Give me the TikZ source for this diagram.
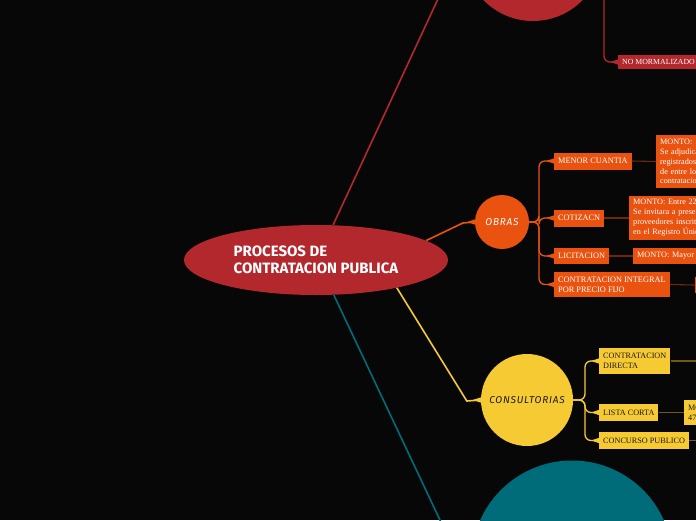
\documentclass[tikz,border=0pt]{standalone}
\usepackage{fontspec}
\setmainfont{Liberation Serif}
\newfontfamily\titlefont{Fira Sans}
\newfontfamily\circfont{Fira Sans}[LetterSpace=8.0]
\usetikzlibrary{shapes.geometric,calc}
\definecolor{bgc}{HTML}{070707}
\definecolor{redc}{HTML}{B3282D}
\definecolor{orc}{HTML}{E9520F}
\definecolor{orline}{HTML}{6B2A0C}
\definecolor{yelc}{HTML}{F6CA32}
\definecolor{yelline}{HTML}{6E5B16}
\definecolor{tealc}{HTML}{006B79}
\definecolor{darktext}{HTML}{1A1A1A}
\newcommand\mmflare[2]{\fill[#1] ($(#2)+(-8,0)$) -- ($(#2)+(0,-2.6)$) -- ($(#2)+(0,2.6)$) -- cycle;}
\tikzset{
  mainline/.style={line width=1.6},
  subline/.style={line width=1.3, rounded corners=6},
  detline/.style={line width=1.1},
  obox/.style={rectangle, fill=orc, text=white, font=\fontsize{8.3}{9.6}\selectfont, inner xsep=4, inner ysep=0, anchor=west, align=left},
  odet/.style={obox, font=\fontsize{8.2}{9.9}\selectfont, text width=100},
  ybox/.style={rectangle, fill=yelc, text=darktext, font=\fontsize{8.2}{9.6}\selectfont, inner xsep=4, inner ysep=0, anchor=west, align=left},
  rbox/.style={rectangle, fill=redc, text=white, font=\fontsize{7.8}{8}\selectfont, inner xsep=4, inner ysep=0, anchor=west, minimum height=14},
}
\begin{document}
\begin{tikzpicture}[x=1pt,y=-1pt]
\fill[bgc] (0,0) rectangle (696,520);
\useasboundingbox (0,0) rectangle (696,520);
\clip (0,0) rectangle (696,520);

% main nodes
\node[ellipse, fill=redc, minimum width=264, minimum height=70, inner sep=0, align=left, text=white,
      font=\titlefont\bfseries\fontsize{15}{17}\selectfont] (root) at (316,260) {PROCESOS DE\\CONTRATACION PUBLICA};
\node[circle, fill=redc, minimum size=138, inner sep=0] (topred) at (533,-48) {};
\node[circle, fill=orc, minimum size=54, inner sep=0, text=white, font=\circfont\itshape\fontsize{10}{11}\selectfont] (obras) at (502,222) {OBRAS};
\node[circle, fill=yelc, minimum size=92, inner sep=0, text=darktext, font=\circfont\itshape\fontsize{10}{11}\selectfont] (cons) at (527,400) {CONSULTORIAS};
\node[circle, fill=tealc, minimum size=201, inner sep=0] (teal) at (572,561) {};

% main connectors
\draw[redc, mainline] (root.64) -- ($(topred.west)+(-4,0)$) -- (topred.west);
\draw[orc, mainline] (root.10) -- ($(obras.west)+(-12,1)$) -- (obras.west);
\mmflare{orc}{obras.west}
\draw[yelc, mainline] (root.-19) -- ($(cons.west)+(-14,1)$) -- (cons.west);
\mmflare{yelc}{cons.west}
\draw[tealc, mainline] (root.-63) -- ($(teal.west)+(-12,0)$) -- (teal.west);

% red branch
\coordinate (rtrunk) at (604,-5);
\node[rbox] (nomor) at (618,62) {NO MORMALIZADO};
\draw[redc, subline] (rtrunk) -- (604,62) -- (nomor.west);
\mmflare{redc}{nomor.west}

% obras branch
\node[obox, minimum height=17] (menor) at (554,161) {MENOR CUANTIA};
\node[obox, minimum height=17] (cotiz) at (554,218) {COTIZACN};
\node[obox, minimum height=16] (licit) at (554,256) {LICITACION};
\node[obox, minimum height=25] (integ) at (554,284.5) {CONTRATACION INTEGRAL\\POR PRECIO FIJO};
\foreach \b/\y in {menor/161, cotiz/218, licit/256, integ/284.5}{
  \draw[orc, subline] (obras.east) -- (539,222) -- (539,\y) -- (\b.west);
  \mmflare{orc}{\b.west}
}
\node[odet, minimum height=53] (dmenor) at (656,161.5) {MONTO:\\Se adjudicara\\registrados\\de entre los\\contratacion};
\node[odet, minimum height=44] (dcotiz) at (629,218) {MONTO: Entre 22\\Se invitara a presentar\\proveedores inscritos\\en el Registro Único};
\node[odet, minimum height=16] (dlicit) at (633,256) {MONTO: Mayor};
\node[obox, minimum height=16, minimum width=40] (dinteg) at (695,285) {};
\draw[orline, detline] (menor.east) -- (dmenor.west);
\draw[orline, detline] (cotiz.east) -- (dcotiz.west);
\draw[orline, detline] (licit.east) -- (dlicit.west);
\draw[orline, detline] (integ.east) -- (dinteg.west);

% consultorias branch
\node[ybox, minimum height=26] (cdir) at (599,361) {CONTRATACION\\DIRECTA};
\node[ybox, minimum height=17] (lista) at (599,412.5) {LISTA CORTA};
\node[ybox, minimum height=17] (concurso) at (599,440.5) {CONCURSO PUBLICO};
\foreach \b/\y in {cdir/361, lista/412.5, concurso/440.5}{
  \draw[yelc, subline] (cons.east) -- (585,400) -- (585,\y) -- (\b.west);
  \mmflare{yelc}{\b.west}
}
\node[ybox, minimum height=25, text width=40, font=\fontsize{8.2}{9.9}\selectfont] (dlista) at (684,412.5) {MONTO:\\47};
\coordinate (cdirend) at (700,361);
\coordinate (concend) at (700,440.5);
\draw[yelline, detline] (cdir.east) -- (cdirend);
\draw[yelline, detline] (lista.east) -- (dlista.west);
\draw[yelline, detline] (concurso.east) -- (concend);
\end{tikzpicture}
\end{document}
